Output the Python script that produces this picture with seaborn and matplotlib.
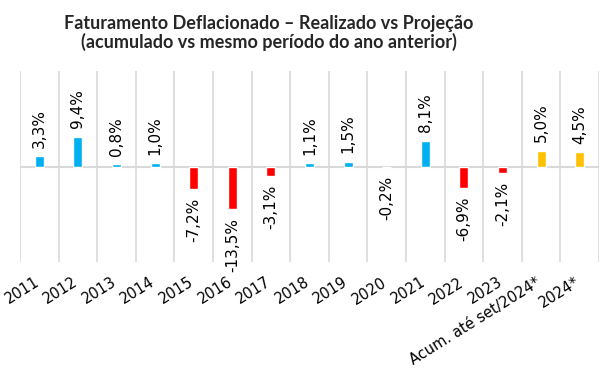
import numpy as np
import pandas as pd
import matplotlib
matplotlib.use("Agg")
import matplotlib.pyplot as plt
import matplotlib.transforms as mtrans
import seaborn as sns

# data
categories = ['2011', '2012', '2013', '2014', '2015', '2016', '2017', '2018', '2019',
              '2020', '2021', '2022', '2023', 'Acum. até set/2024*', '2024*']
values = [3.3, 9.4, 0.8, 1.0, -7.2, -13.5, -3.1, 1.1, 1.5, -0.2, 8.1, -6.9, -2.1, 5.0, 4.5]
kind = ['real'] * 13 + ['proj'] * 2

BLUE = '#00B0F0'
RED = '#FF0000'
ORANGE = '#FFC000'
colors = [ORANGE if k == 'proj' else (BLUE if v >= 0 else RED) for k, v in zip(kind, values)]

df = pd.DataFrame({'cat': categories, 'val': values})

sns.set_theme(style='white')
plt.rcParams['font.family'] = ['DejaVu Sans']

fig = plt.figure(figsize=(6, 3.72), dpi=100)
ax = fig.add_axes([20 / 600, 1 - 262 / 372, 579 / 600, 191 / 372])

sns.barplot(data=df, x='cat', y='val', hue='cat', palette=colors, legend=False,
            width=0.23, ax=ax, saturation=1)

ax.set_ylim(-30, 30)
ax.set_xlim(-0.5, len(categories) - 0.5)
for s in ax.spines.values():
    s.set_visible(False)
ax.set_yticks([])
ax.set_xlabel('')
ax.set_ylabel('')

# vertical separators between categories + zero line
for i in range(len(categories) + 1):
    ax.axvline(i - 0.5, color='#D9D9D9', lw=1.2, zorder=0)
ax.axhline(0, color='#D9D9D9', lw=1.5, zorder=0)

for cont in ax.containers:
    labs = [f'{v:.1f}%'.replace('.', ',') for v in cont.datavalues]
    ax.bar_label(cont, labels=labs, rotation=90, padding=6, fontsize=11, color='black')

ax.tick_params(axis='x', length=0, pad=9)
ax.set_xticks(range(len(categories)))
ax.set_xticklabels(categories, rotation=32, ha='right', rotation_mode='anchor',
                   fontsize=10.5, color='black')
shift = mtrans.ScaledTranslation(-4 / 72, 0, fig.dpi_scale_trans)
for lab in ax.get_xticklabels():
    lab.set_transform(lab.get_transform() + shift)

title_font = ['Lato', 'DejaVu Sans']
fig.text(269 / 600, 1 - 24 / 372, 'Faturamento Deflacionado – Realizado vs Projeção',
         ha='center', va='center', fontsize=13, fontweight='bold', family=title_font)
fig.text(269 / 600, 1 - 42 / 372, '(acumulado vs mesmo período do ano anterior)',
         ha='center', va='center', fontsize=13, fontweight='bold', family=title_font)

fig.savefig('out.png', dpi=100)
